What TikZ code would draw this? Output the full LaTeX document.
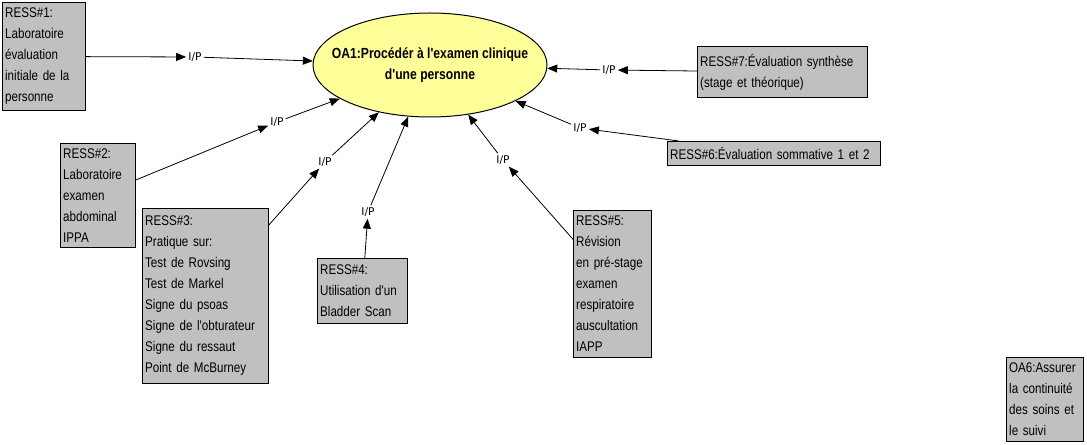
\documentclass[tikz,border=0pt]{standalone}
\usepackage{fontspec}
\setmainfont{Liberation Sans}[FakeStretch=0.83,Ligatures=TeXOff]
\newfontfamily\ipfont{DejaVu Sans}
\usetikzlibrary{arrows.meta,shapes.geometric}
\definecolor{ressgray}{HTML}{C0C0C0}
\definecolor{goalyellow}{HTML}{FFFF99}
\tikzset{
  ressbox/.style={draw,fill=ressgray,line width=0.75pt,anchor=north west,align=left,inner sep=2pt,font=\fontsize{10.5}{15.75}\selectfont},
  goal/.style={draw,ellipse,fill=goalyellow,line width=0.75pt,minimum width=175.5pt,minimum height=78pt,inner xsep=-30pt,inner ysep=-5pt,align=center,font=\fontsize{11}{15.75}\selectfont\bfseries},
  iplabel/.style={inner sep=1.5pt,font=\ipfont\fontsize{8}{9.6}\selectfont},
  arr/.style={-{Triangle[length=7.5pt,width=6pt]},line width=0.6pt}
}
\begin{document}
\begin{tikzpicture}[x=0.75pt,y=-0.75pt]
\useasboundingbox (0,0) rectangle (1087,445);
\node[goal] (oa1) at (430,65) {OA1:Procédér à l'examen clinique\\d'une personne};
\node[ressbox,text width=58.25pt,minimum height=81pt] (ress1) at (2,2) {RESS\#1:\\Laboratoire\\évaluation\\initiale de la\\personne};
\node[ressbox,text width=52.25pt,minimum height=78pt] (ress2) at (60,143) {RESS\#2:\\Laboratoire\\examen\\abdominal\\IPPA};
\node[ressbox,text width=90.5pt,minimum height=131.25pt] (ress3) at (142,208) {RESS\#3:\\Pratique sur:\\Test de Rovsing\\Test de Markel\\Signe du psoas\\Signe de l'obturateur\\Signe du ressaut\\Point de McBurney};
\node[ressbox,text width=63.5pt,minimum height=48.75pt] (ress4) at (317,258) {RESS\#4:\\Utilisation d'un\\Bladder Scan};
\node[ressbox,text width=54.5pt,minimum height=110.25pt] (ress5) at (573,210) {RESS\#5:\\Révision\\en pré-stage\\examen\\respiratoire\\auscultation\\IAPP};
\node[ressbox,text width=155.75pt,minimum height=18pt] (ress6) at (667,141) {RESS\#6:Évaluation sommative 1 et 2};
\node[ressbox,text width=123.5pt,minimum height=38.25pt] (ress7) at (697,46) {RESS\#7:Évaluation synthèse\\(stage et théorique)};
\node[ressbox,text width=53.75pt,minimum height=63pt] (oa6) at (1006,357) {OA6:Assurer\\la continuité\\des soins et\\le suivi};
\node[iplabel] (ip1) at (195,57) {I/P};
\node[iplabel] (ip2) at (277,122) {I/P};
\node[iplabel] (ip3) at (325,162) {I/P};
\node[iplabel] (ip4) at (368,212) {I/P};
\node[iplabel] (ip5) at (503,160) {I/P};
\node[iplabel] (ip6) at (580,128) {I/P};
\node[iplabel] (ip7) at (609,70) {I/P};
\draw[arr] (ress1) -- (ip1);
\draw[arr] (ip1) -- (oa1);
\draw[arr] (ress2) -- (ip2);
\draw[arr] (ip2) -- (oa1);
\draw[arr] (ress3) -- (ip3);
\draw[arr] (ip3) -- (oa1);
\draw[arr] (ress4) -- (ip4);
\draw[arr] (ip4) -- (oa1);
\draw[arr] (ress5) -- (ip5);
\draw[arr] (ip5) -- (oa1);
\draw[arr] (ress6) -- (ip6);
\draw[arr] (ip6) -- (oa1);
\draw[arr] (ress7) -- (ip7);
\draw[arr] (ip7) -- (oa1);
\end{tikzpicture}
\end{document}
